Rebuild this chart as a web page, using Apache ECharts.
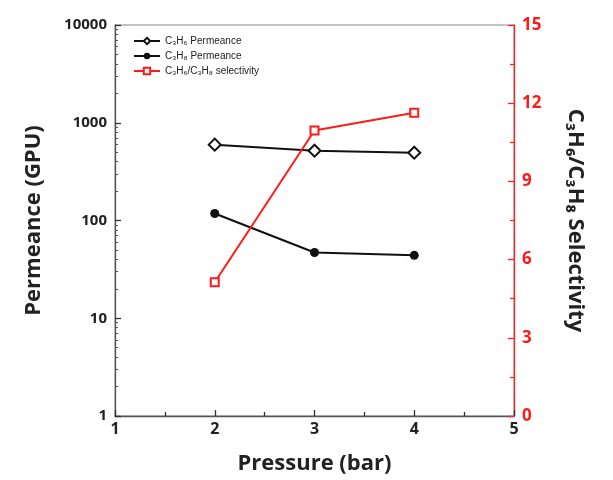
<!DOCTYPE html>
<html><head><meta charset="utf-8">
<script src="https://cdn.jsdelivr.net/npm/echarts@6/dist/echarts.min.js"></script>
<style>html,body{margin:0;padding:0;background:#fff}#c{width:613px;height:480px}</style>
</head><body><div id="c"></div>
<script>
const pressure = [2, 3, 4];
const c3h6Permeance = [597, 518, 494];
const c3h8Permeance = [118, 47, 44];
const selectivity = [5.13, 10.95, 11.63];
const names = ['C\u2083H\u2086 Permeance', 'C\u2083H\u2088 Permeance', 'C\u2083H\u2086/C\u2083H\u2088 selectivity'];

const pair = (xs, ys) => xs.map((x, i) => [x, ys[i]]);
const chart = echarts.init(document.getElementById('c'));
const font = 'Open Sans';
chart.setOption({
  animation: false,
  grid: {left: 115, right: 99, top: 25, bottom: 63, show: true, borderColor: '#888', borderWidth: 1},
  legend: {
    left: 128, top: 31, orient: 'vertical', itemGap: 5, itemWidth: 26, itemHeight: 8,
    textStyle: {fontFamily: 'Liberation Sans', fontSize: 10, color: '#222'},
    data: names
  },
  xAxis: {
    type: 'value', min: 1, max: 5, interval: 1,
    name: 'Pressure (bar)', nameLocation: 'middle', nameGap: 37,
    nameTextStyle: {fontFamily: font, fontWeight: 'bold', fontSize: 22, color: '#222'},
    axisLine: {show: true, lineStyle: {color: '#555', width: 1.3}},
    axisTick: {show: true, inside: true, length: 6, lineStyle: {color: '#333', width: 1.3}},
    minorTick: {show: true, splitNumber: 2, length: 4, lineStyle: {color: '#333', width: 1.3}},
    axisLabel: {fontFamily: font, fontWeight: 'bold', fontSize: 16, color: '#222', margin: 5},
    splitLine: {show: false}
  },
  yAxis: [{
    type: 'log', logBase: 10, min: 1, max: 10000,
    name: 'Permeance (GPU)', nameLocation: 'middle', nameGap: 70, nameRotate: 90,
    nameTextStyle: {fontFamily: font, fontWeight: 'bold', fontSize: 22, color: '#222'},
    axisLine: {show: true, lineStyle: {color: '#555', width: 1.3}},
    axisTick: {show: true, inside: true, length: 6, lineStyle: {color: '#333', width: 1.3}},
    minorTick: {show: true, splitNumber: 9, length: 3, lineStyle: {color: '#555', width: 1}},
    axisLabel: {fontFamily: font, fontWeight: 'bold', fontSize: 15, color: '#222', margin: 8,
      formatter: v => String(Math.round(v))},
    splitLine: {show: false}
  }, {
    type: 'value', min: 0, max: 15, interval: 3, position: 'right',
    name: 'C\u2083H\u2086/C\u2083H\u2088 Selectivity', nameLocation: 'middle', nameGap: 50, nameRotate: -90,
    nameTextStyle: {fontFamily: font, fontWeight: 'bold', fontSize: 22, color: '#222'},
    axisLine: {show: true, lineStyle: {color: '#ff2020', width: 1.3}},
    axisTick: {show: true, inside: true, length: 6, lineStyle: {color: '#ff2020', width: 1.3}},
    minorTick: {show: true, splitNumber: 2, length: 4, lineStyle: {color: '#ff2020', width: 1.3}},
    axisLabel: {fontFamily: font, fontWeight: 'bold', fontSize: 17, color: '#ff1a1a', margin: 8},
    splitLine: {show: false}
  }],
  series: [{
    name: names[0], type: 'line', yAxisIndex: 0, data: pair(pressure, c3h6Permeance),
    symbol: 'emptyDiamond', symbolSize: 12, color: '#111',
    lineStyle: {color: '#111', width: 2}, itemStyle: {color: '#111', borderWidth: 1.5}
  }, {
    name: names[1], type: 'line', yAxisIndex: 0, data: pair(pressure, c3h8Permeance),
    symbol: 'circle', symbolSize: 9, color: '#111',
    lineStyle: {color: '#111', width: 2}, itemStyle: {color: '#111'}
  }, {
    name: names[2], type: 'line', yAxisIndex: 1, data: pair(pressure, selectivity),
    symbol: 'emptyRect', symbolSize: 8, color: '#ff1a1a',
    lineStyle: {color: '#ff1a1a', width: 2}, itemStyle: {color: '#ff1a1a', borderWidth: 1.5}
  }]
});
</script></body></html>
